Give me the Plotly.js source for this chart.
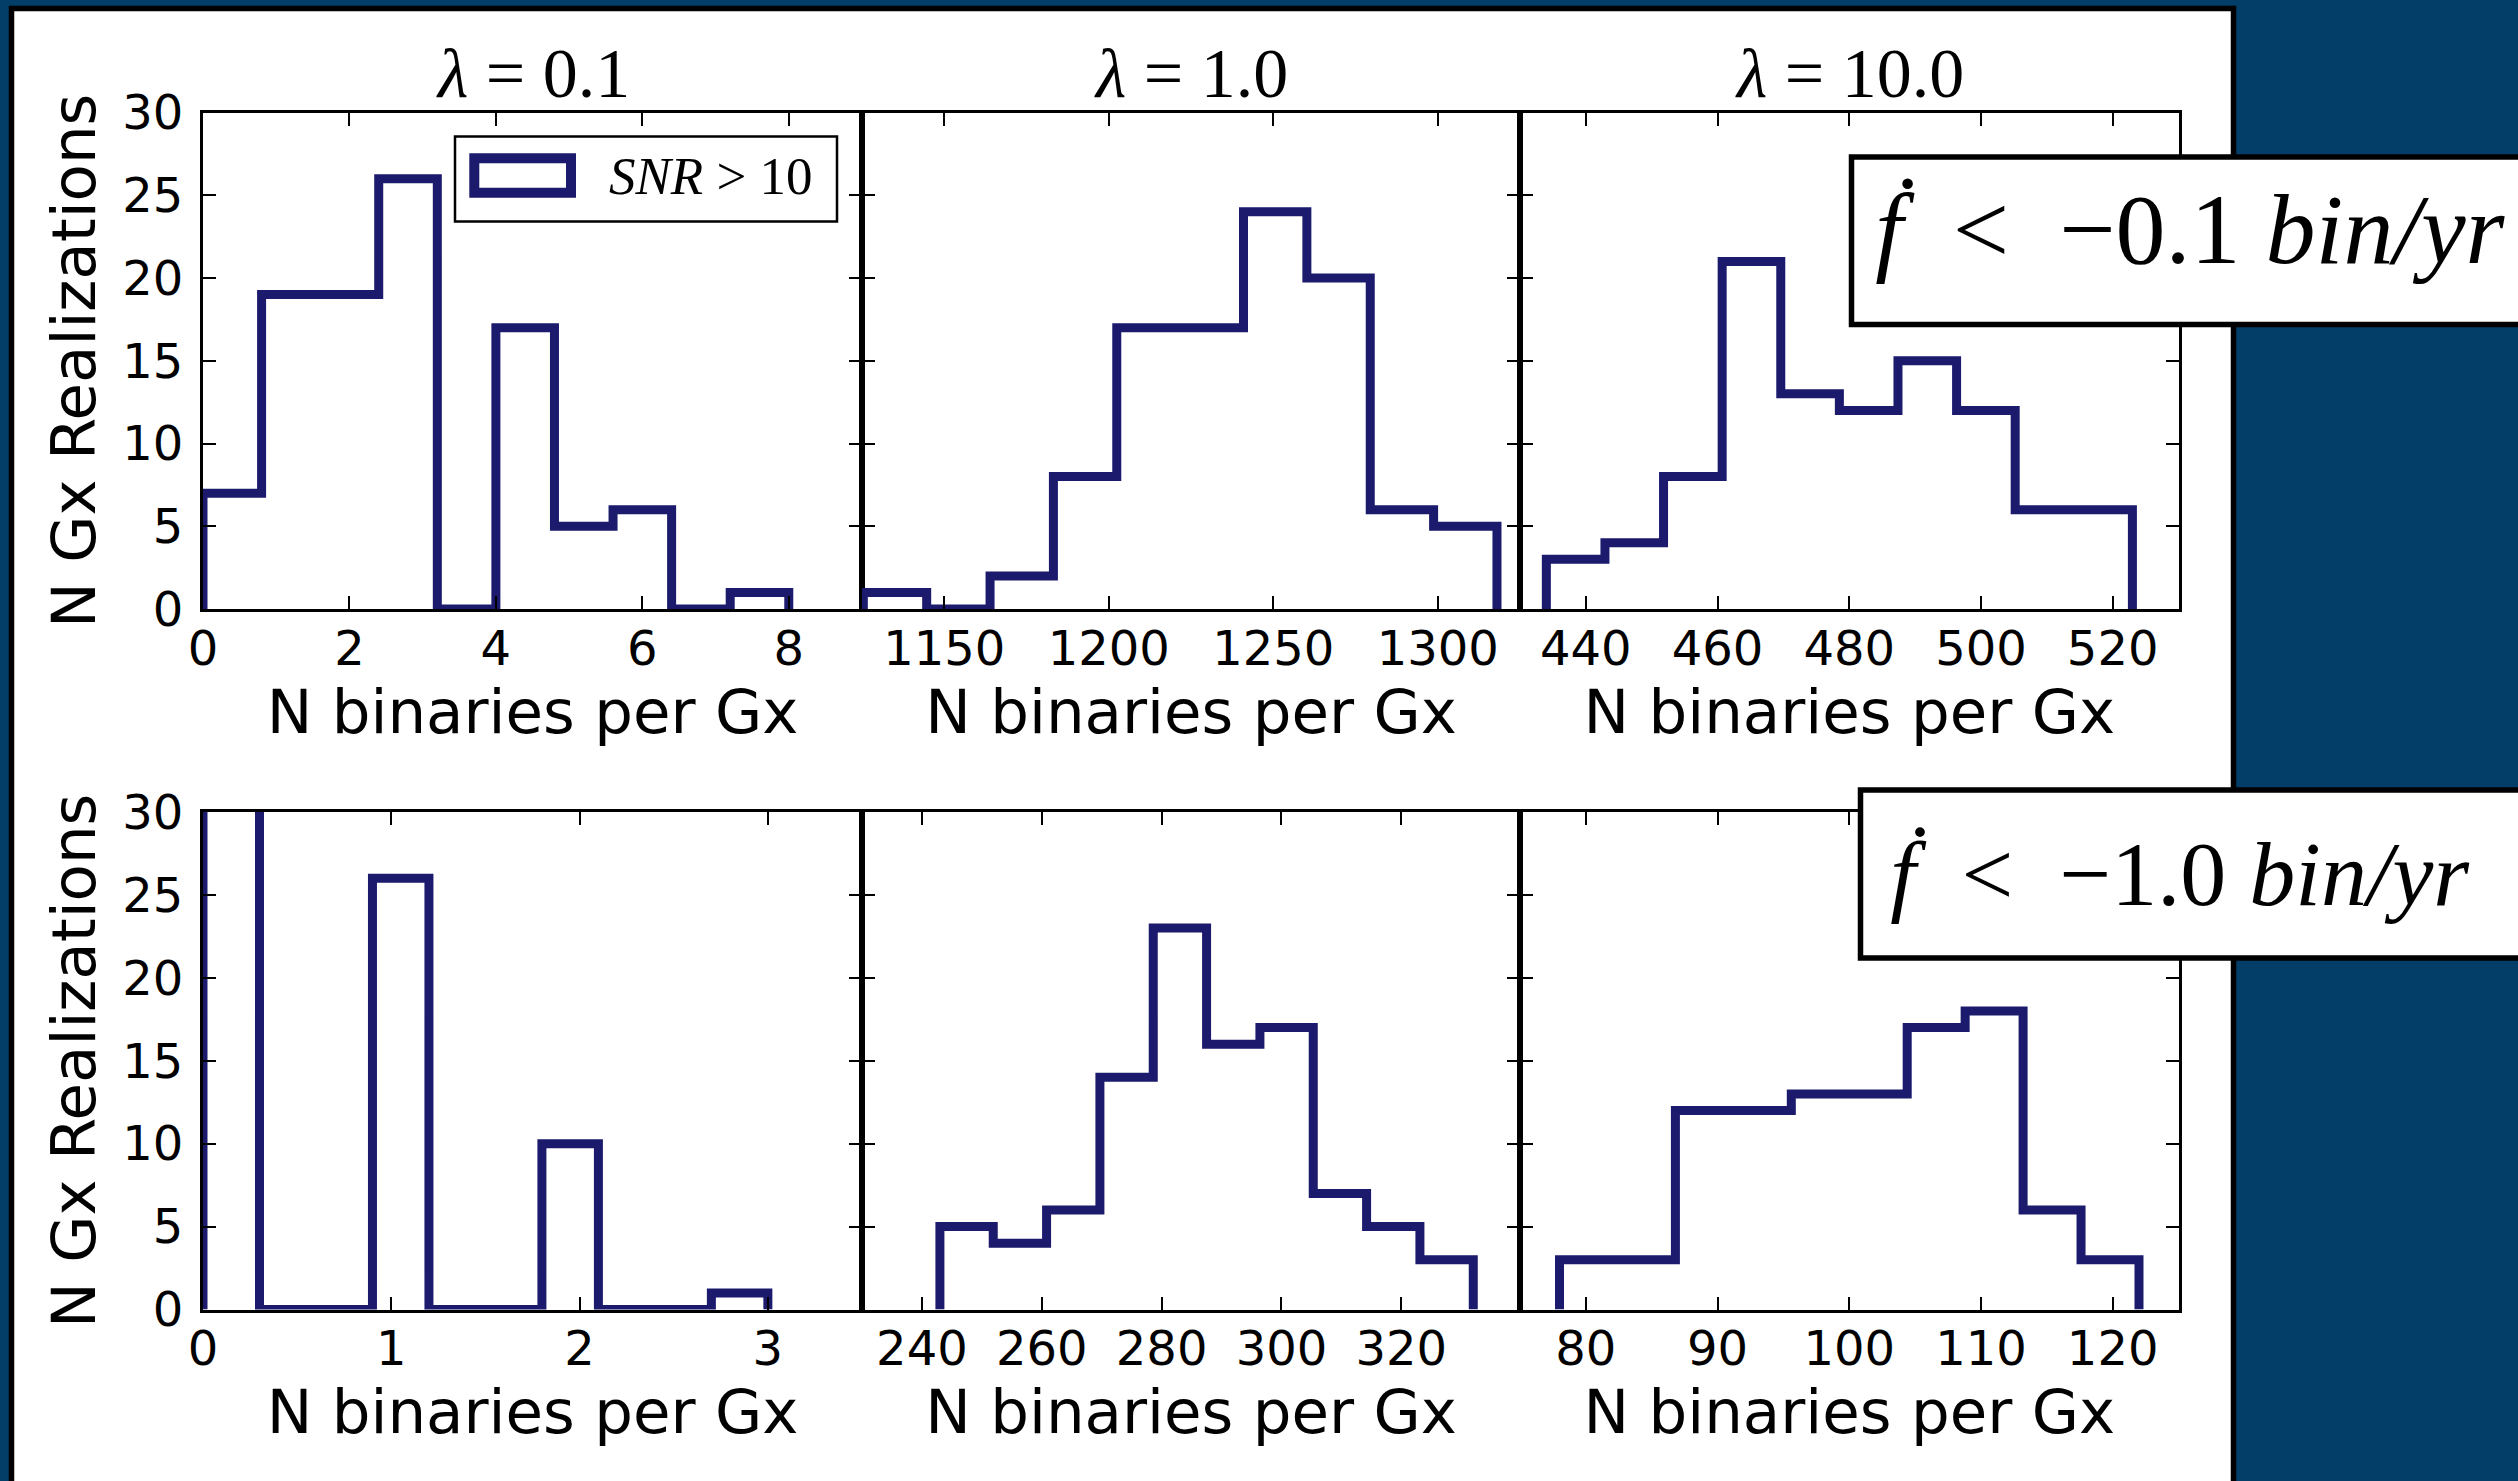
<!DOCTYPE html>
<html>
<head>
<meta charset="utf-8">
<script src="https://cdn.plot.ly/plotly-3.0.1.min.js"></script>
<style>
  html, body { margin: 0; padding: 0; background: #033e68; }
  #chart { width: 2518px; height: 1481px; }
</style>
</head>
<body>
<div id="chart"></div>
<script>
// Column headings (coupling parameter) and the two cuts on the frequency derivative
const lambdaValues = ['0.1', '1.0', '10.0'];
const fdotCuts = ['−0.1', '−1.0'];
const xLabel = 'N binaries per Gx';
const yLabel = 'N Gx Realizations';

// Histogram counts (10 equal-width bins) and the span covered by the bins
// Row 1: fdot < -0.1 bin/yr
const countsTopL01 = [7, 19, 19, 26, 0, 17, 5, 6, 0, 1];
const spanTopL01 = [0, 8];
const countsTopL1 = [1, 0, 2, 8, 17, 17, 24, 20, 6, 5];
const spanTopL1 = [1125.4, 1318];
const countsTopL10 = [3, 4, 8, 21, 13, 12, 15, 12, 6, 6];
const spanTopL10 = [434, 523];
// Row 2: fdot < -1.0 bin/yr
const countsBotL01 = [63, 0, 0, 26, 0, 0, 10, 0, 0, 1];
const spanBotL01 = [0, 3];
const countsBotL1 = [5, 4, 6, 14, 23, 16, 17, 7, 5, 3];
const spanBotL1 = [243, 332];
const countsBotL10 = [3, 3, 12, 12, 13, 13, 17, 18, 6, 3];
const spanBotL10 = [78, 122];

// Axis limits and tick spacing for the six panels
const xLimits = [[0, 9], [1125, 1325], [430, 530], [0, 3.5], [230, 339.8], [75, 125]];
const xTickStep = [2, 50, 20, 1, 20, 10];
const yLimits = [0, 30];
const yTickStep = 5;

const panels = [
  [countsTopL01, spanTopL01], [countsTopL1, spanTopL1], [countsTopL10, spanTopL10],
  [countsBotL01, spanBotL01], [countsBotL1, spanBotL1], [countsBotL10, spanBotL10]
];

// ---- page geometry (pixels -> paper fractions) ----
const W = 2518, H = 1481;
const fx = p => p / W;
const fy = p => 1 - p / H;

const colEdges = [[203, 862], [862, 1520], [1520, 2178.5]];
const rowEdges = [[112.5, 609], [812, 1309.5]];

const NAVY = '#1b1a6d';
const SANS = 'DejaVu Sans, sans-serif';
const SERIF = 'Liberation Serif, DejaVu Serif, serif';

// Step outline of a histogram (matplotlib "step" style)
function stepOutline(counts, span) {
  const n = counts.length;
  const w = (span[1] - span[0]) / n;
  const xs = [span[0]], ys = [0];
  counts.forEach((c, i) => {
    const a = span[0] + i * w;
    xs.push(a, a + w);
    ys.push(c, c);
  });
  xs.push(span[1]); ys.push(0);
  return { xs, ys };
}

const traces = panels.map(([counts, span], i) => {
  const s = stepOutline(counts, span);
  const k = i === 0 ? '' : String(i + 1);
  return {
    type: 'scatter', mode: 'lines',
    x: s.xs, y: s.ys,
    xaxis: 'x' + k, yaxis: 'y' + k,
    line: { color: NAVY, width: 9 },
    hoverinfo: 'skip', showlegend: false
  };
});

const layout = {
  width: W, height: H,
  margin: { l: 0, r: 0, t: 0, b: 0 },
  paper_bgcolor: '#033e68',
  plot_bgcolor: 'white',
  showlegend: false,
  shapes: [],
  annotations: []
};

for (let i = 0; i < 6; i++) {
  const col = i % 3, row = Math.floor(i / 3);
  const k = i === 0 ? '' : String(i + 1);
  const common = {
    showline: true, linecolor: 'black', linewidth: 3,
    mirror: 'ticks', ticks: 'inside', ticklen: 13, tickwidth: 2, tickcolor: 'black',
    showgrid: false, zeroline: false, fixedrange: true,
    tickfont: { family: SANS, size: 48, color: 'black' }
  };
  layout['xaxis' + k] = Object.assign({}, common, {
    anchor: 'y' + k,
    domain: [fx(colEdges[col][0]), fx(colEdges[col][1])],
    range: xLimits[i], dtick: xTickStep[i], tick0: 0,
    ticklabelstandoff: -5,
    title: { text: xLabel, font: { family: SANS, size: 61, color: 'black' }, standoff: 16 }
  });
  const yax = Object.assign({}, common, {
    anchor: 'x' + k,
    domain: [fy(rowEdges[row][1]), fy(rowEdges[row][0])],
    range: yLimits, dtick: yTickStep, tick0: 0,
    showticklabels: col === 0,
    ticklabelstandoff: 7
  });
  if (col === 0) {
    yax.title = { text: yLabel, font: { family: SANS, size: 61, color: 'black' }, standoff: 7 };
  }
  layout['yaxis' + k] = yax;
}

// White figure sheet with its black frame
layout.shapes.push({
  type: 'rect', xref: 'paper', yref: 'paper', layer: 'below',
  x0: fx(11.5), x1: fx(2233.5), y0: fy(8.5), y1: fy(1520),
  line: { color: 'black', width: 5.5 }, fillcolor: 'white'
});

// Column headings
lambdaValues.forEach((v, col) => {
  layout.annotations.push({
    xref: 'paper', yref: 'paper',
    x: fx((colEdges[col][0] + colEdges[col][1]) / 2), y: fy(73),
    xanchor: 'center', yanchor: 'middle', showarrow: false,
    text: '<i>λ</i> = ' + v,
    font: { family: SERIF, size: 70, color: 'black' }
  });
});

// Legend of the first panel
layout.shapes.push({
  type: 'rect', xref: 'paper', yref: 'paper', layer: 'above',
  x0: fx(455), x1: fx(837), y0: fy(136.5), y1: fy(221.5),
  line: { color: 'black', width: 2.5 }, fillcolor: 'white'
});
layout.shapes.push({
  type: 'rect', xref: 'paper', yref: 'paper', layer: 'above',
  x0: fx(474.3), x1: fx(571), y0: fy(158.3), y1: fy(192.7),
  line: { color: NAVY, width: 10 }, fillcolor: 'white'
});
layout.annotations.push({
  xref: 'paper', yref: 'paper', x: fx(711), y: fy(176),
  xanchor: 'center', yanchor: 'middle', showarrow: false,
  text: '<i>SNR</i> &gt; 10',
  font: { family: SERIF, size: 53, color: 'black' }
});

// Boxed labels for the two frequency-derivative cuts
const cutBoxes = [
  { x0: 1851.5, y0: 157, y1: 324.5, cx: 2190, cy: 229, size: 100 },
  { x0: 1860.5, y0: 790, y1: 958, cx: 2180, cy: 874, size: 92 }
];
fdotCuts.forEach((c, r) => {
  const b = cutBoxes[r];
  layout.shapes.push({
    type: 'rect', xref: 'paper', yref: 'paper', layer: 'above',
    x0: fx(b.x0), x1: fx(2560), y0: fy(b.y0), y1: fy(b.y1),
    line: { color: 'black', width: 5.5 }, fillcolor: 'white'
  });
  layout.annotations.push({
    xref: 'paper', yref: 'paper', x: fx(b.cx), y: fy(b.cy),
    xanchor: 'center', yanchor: 'middle', showarrow: false,
    text: '<i>ḟ</i>  &lt;  ' + c + ' <i>bin/yr</i>',
    font: { family: SERIF, size: b.size, color: 'black' }
  });
});

Plotly.newPlot('chart', traces, layout, { staticPlot: true, displayModeBar: false });
</script>
</body>
</html>
